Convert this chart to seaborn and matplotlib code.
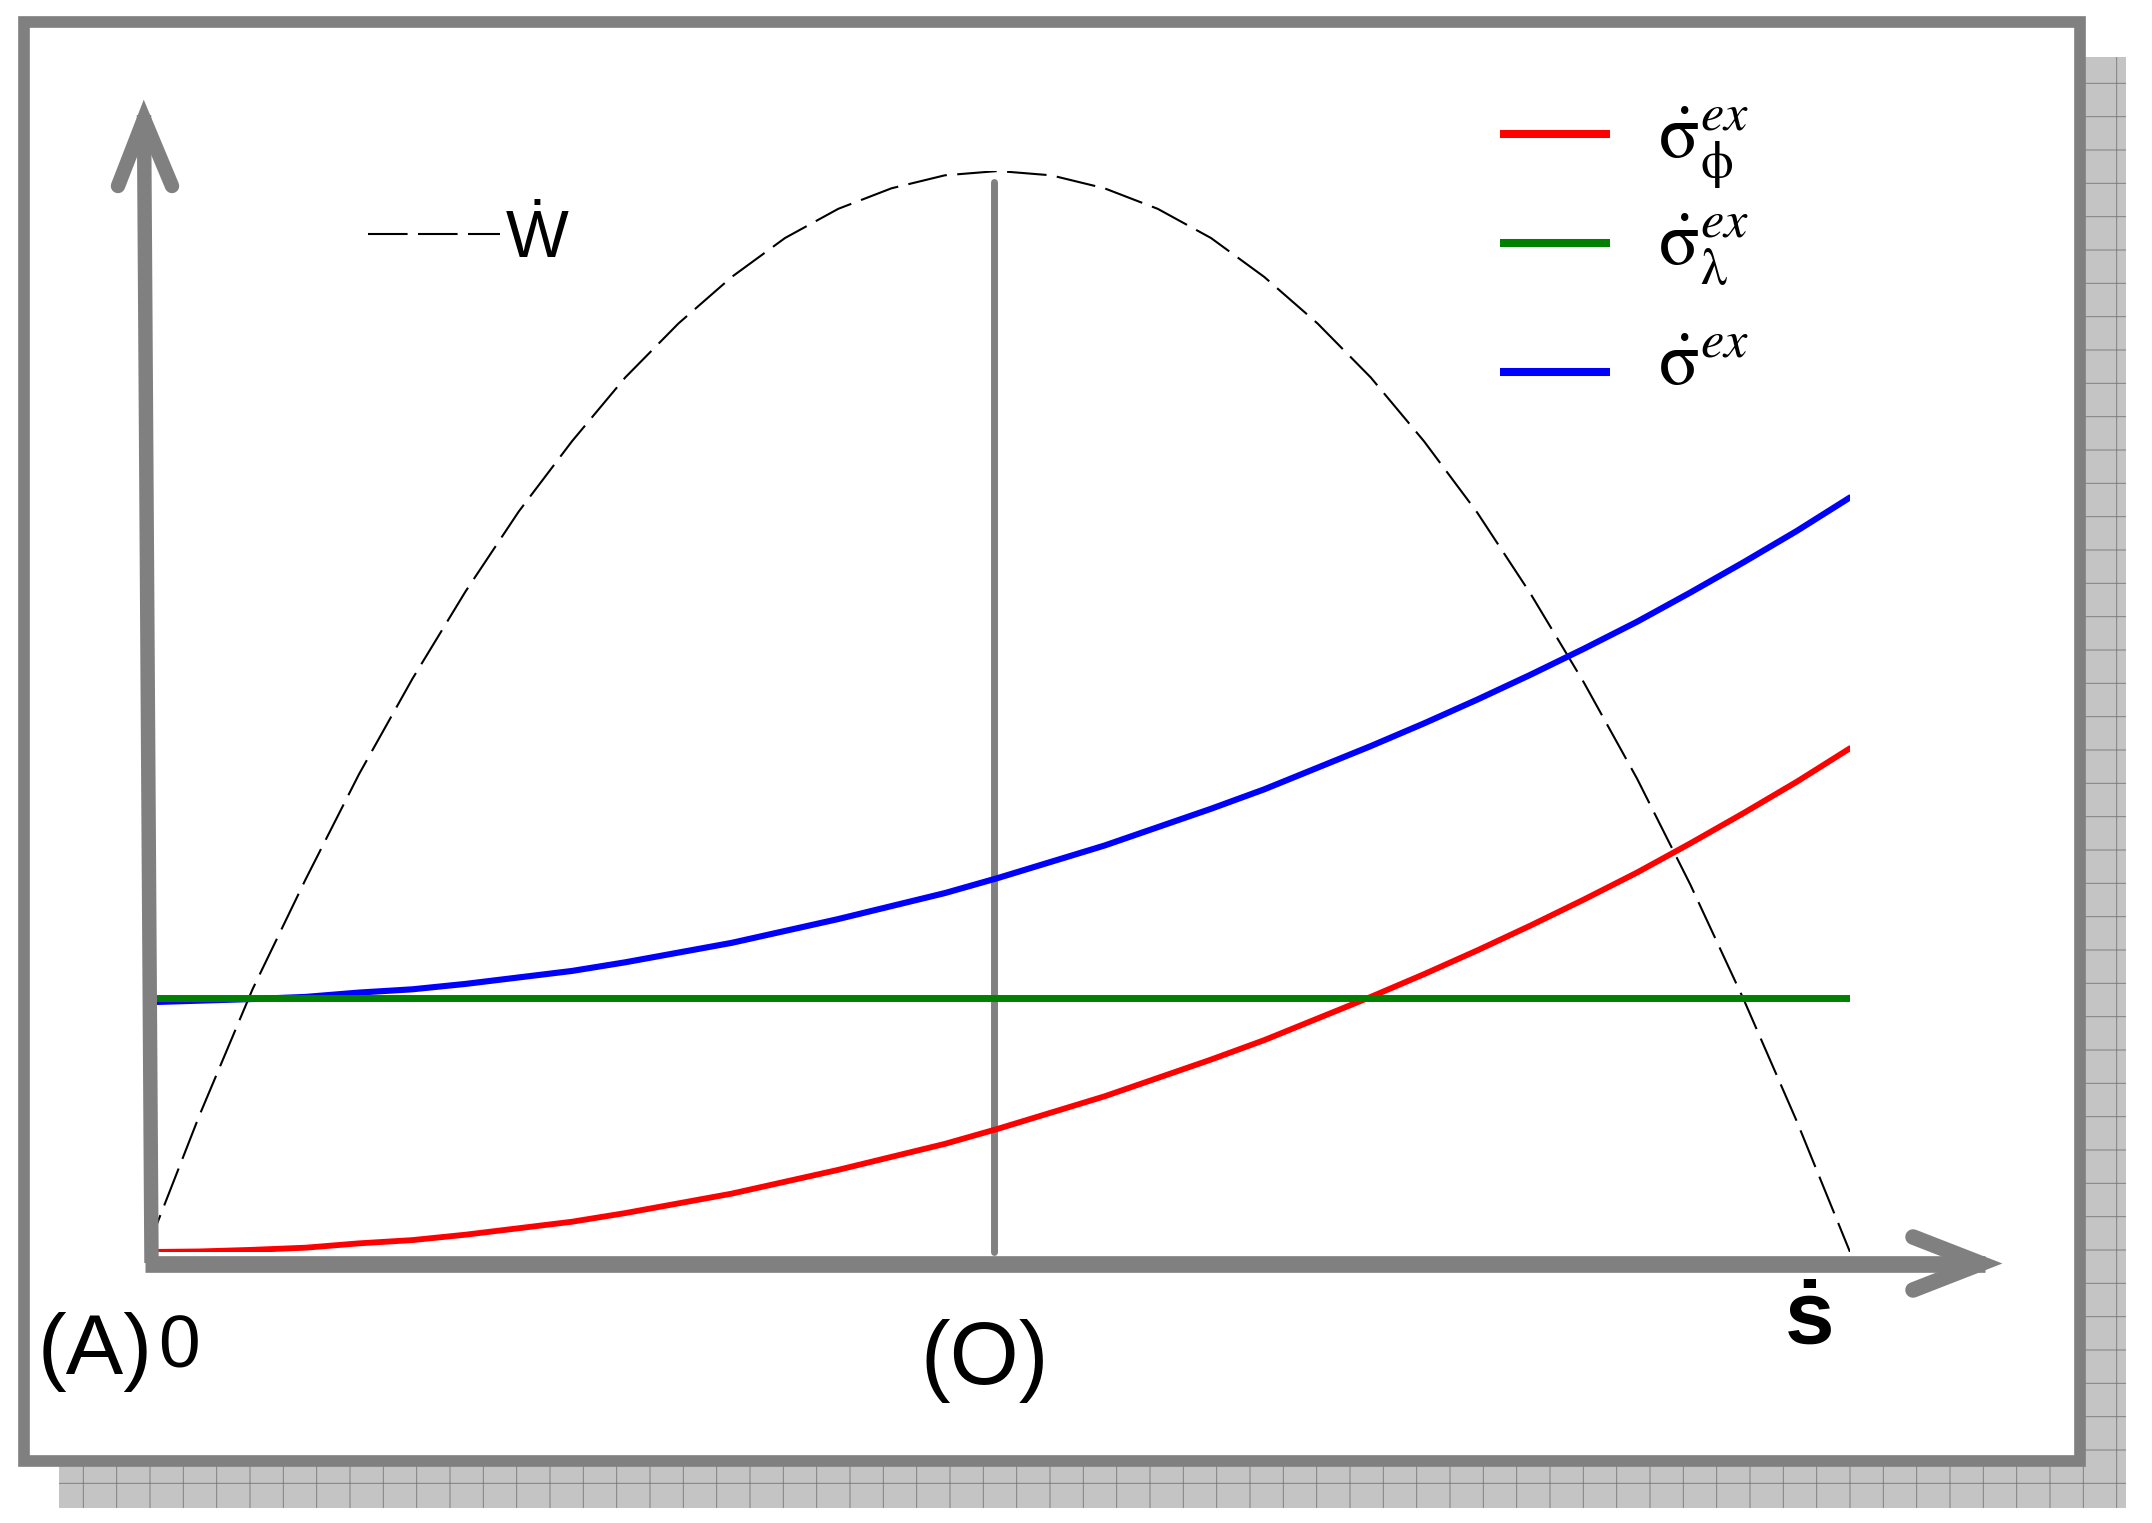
import numpy as np
import pandas as pd
import seaborn as sns
import matplotlib.pyplot as plt
from matplotlib.patches import Rectangle
from matplotlib.lines import Line2D

W, H = 2152, 1523
DPI = 200

# values (x: 0 = A, 1 = O, 2 = end; y scaled so max of W = 1)
s = [0.0, 0.0625, 0.125, 0.1875, 0.25, 0.3125, 0.375, 0.4375, 0.5,
     0.5625, 0.625, 0.6875, 0.75, 0.8125, 0.875, 0.9375, 1.0,
     1.0625, 1.125, 1.1875, 1.25, 1.3125, 1.375, 1.4375, 1.5,
     1.5625, 1.625, 1.6875, 1.75, 1.8125, 1.875, 1.9375, 2.0]
w_dot = [0.0, 0.126, 0.243, 0.345, 0.442, 0.530, 0.611, 0.685, 0.75,
         0.809, 0.859, 0.902, 0.938, 0.965, 0.984, 0.996, 1.0,
         0.996, 0.984, 0.965, 0.938, 0.902, 0.859, 0.809, 0.75,
         0.684, 0.609, 0.527, 0.438, 0.340, 0.234, 0.121, 0.0]
sig_phi = [0.0, 0.0005, 0.002, 0.004, 0.008, 0.011, 0.016, 0.022, 0.028,
           0.036, 0.045, 0.054, 0.065, 0.076, 0.088, 0.100, 0.114,
           0.129, 0.144, 0.161, 0.178, 0.196, 0.216, 0.236, 0.257,
           0.279, 0.302, 0.326, 0.351, 0.378, 0.406, 0.435, 0.466]
sig = [0.231, 0.2325, 0.234, 0.236, 0.240, 0.243, 0.248, 0.254, 0.260,
       0.268, 0.277, 0.286, 0.297, 0.308, 0.320, 0.332, 0.346,
       0.361, 0.376, 0.393, 0.410, 0.428, 0.448, 0.468, 0.489,
       0.511, 0.534, 0.558, 0.583, 0.610, 0.638, 0.667, 0.698]
s_lam = [-0.02, 2.0]
sig_lam = [0.235, 0.235]

labels = [r'$\dot{\mathrm{\sigma}}_{\mathrm{\phi}}^{ex}$',
          r'$\dot{\mathrm{\sigma}}_{\mathrm{\lambda}}^{ex}$',
          r'$\dot{\mathrm{\sigma}}^{ex}$']
colors = ['#ff0000', '#008000', '#0000ff']

sns.set_style('white')
plt.rcParams['font.family'] = ['Liberation Sans', 'DejaVu Sans']
plt.rcParams['mathtext.fontset'] = 'stix'
plt.rcParams['hatch.linewidth'] = 0.35
plt.rcParams['text.color'] = 'black'

GRAY = '#808080'


def fx(x):
    return x / W


def fy(y):
    return 1 - y / H


fig = plt.figure(figsize=(W / DPI, H / DPI), dpi=DPI)

# shadow + frame
fig.patches.append(Rectangle((fx(59), fy(1508)), fx(2126) - fx(59), fy(57) - fy(1508),
                             transform=fig.transFigure, facecolor='#c4c4c4',
                             edgecolor=GRAY, hatch='+', linewidth=0, zorder=0))
fig.patches.append(Rectangle((fx(24), fy(1461)), fx(2080) - fx(24), fy(22) - fy(1461),
                             transform=fig.transFigure, facecolor='white',
                             edgecolor=GRAY, linewidth=4.2, zorder=1))

ax = fig.add_axes([fx(146), fy(1252), fx(1850) - fx(146), fy(171) - fy(1252)])
ax.set_zorder(3)
ax.patch.set_alpha(0)
ax.set_xlim(0, 2)
ax.set_ylim(0, 1)
ax.axis('off')

df = pd.DataFrame({'s': s, 'w': w_dot, 'phi': sig_phi, 'sig': sig})
dl = pd.DataFrame({'s': s_lam, 'lam': sig_lam})

sns.lineplot(data=df, x='s', y='w', ax=ax, color='black', linewidth=0.75, zorder=3)
ax.lines[-1].set_dashes((19, 5))
sns.lineplot(data=df, x='s', y='phi', ax=ax, color=colors[0], linewidth=2.1, zorder=4)
sns.lineplot(data=dl, x='s', y='lam', ax=ax, color=colors[1], linewidth=2.5, zorder=6,
             solid_capstyle='round')
sns.lineplot(data=df, x='s', y='sig', ax=ax, color=colors[2], linewidth=2.2, zorder=5)

# vertical line at O
ax.plot([0.995, 0.995], [0, 0.99], color=GRAY, linewidth=2.5, zorder=2, clip_on=False)


# axis arrows (in figure pixels)
def arrow(pts, lw):
    xs = [fx(p[0]) for p in pts]
    ys = [fy(p[1]) for p in pts]
    fig.add_artist(Line2D(xs, ys, transform=fig.transFigure, color=GRAY, linewidth=lw,
                          solid_capstyle='round', solid_joinstyle='miter', zorder=8))


fig.add_artist(Line2D([fx(145), fx(1985)], [fy(1263.5), fy(1263.5)], transform=fig.transFigure,
                      color=GRAY, linewidth=6.0, solid_capstyle='butt', zorder=8))
arrow([(1913, 1237), (1981, 1263.5), (1913, 1290)], 5.6)
fig.add_artist(Line2D([fx(151.5), fx(144)], [fy(1263), fy(115)], transform=fig.transFigure,
                      color=GRAY, linewidth=5.2, solid_capstyle='butt', zorder=8))
arrow([(118, 186), (144, 119), (172, 186)], 5.2)

# labels
fig.text(fx(38), fy(1374), '(A)', fontsize=31, ha='left', va='baseline', zorder=9)
fig.text(fx(158), fy(1368), '0', fontsize=27, ha='left', va='baseline', zorder=9)
fig.text(fx(985), fy(1384), '(O)', fontsize=32, ha='center', va='baseline', zorder=9)
fig.text(fx(1810), fy(1344), '\u1e61', fontsize=32, fontweight='bold',
         ha='center', va='baseline', zorder=9)

# legend for W (dashed)
h_w = [Line2D([], [], color='black', linewidth=0.75, dashes=(19, 5))]
leg1 = fig.legend(h_w, ['\u1e86'], loc='center left', bbox_to_anchor=(fx(368), fy(240)),
                  bbox_transform=fig.transFigure, frameon=False,
                  prop={'family': ['Liberation Sans', 'DejaVu Sans'], 'size': 24},
                  handlelength=1.98, handletextpad=0.08, borderpad=0, borderaxespad=0)

# legend for the stresses, rows placed one by one
handle_y = [134, 243, 372]
text_base = [157, 265, 385]
for lab, c, hy, tb in zip(labels, colors, handle_y, text_base):
    fig.add_artist(Line2D([fx(1500), fx(1610)], [fy(hy), fy(hy)], transform=fig.transFigure,
                          color=c, linewidth=2.9, solid_capstyle='butt', zorder=8))
    fig.text(fx(1658), fy(tb), lab, fontsize=27, ha='left', va='baseline', zorder=9)

fig.savefig('out.png', dpi=DPI)
